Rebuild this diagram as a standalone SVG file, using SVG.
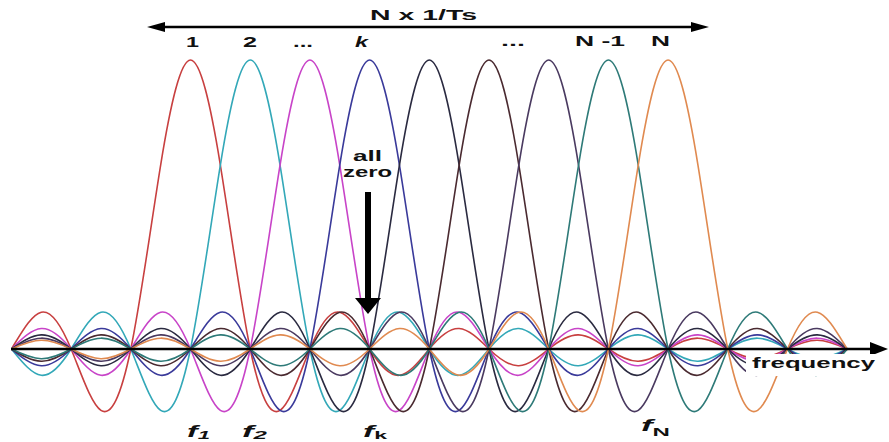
<svg xmlns="http://www.w3.org/2000/svg" xmlns:xlink="http://www.w3.org/1999/xlink" width="889" height="442" viewBox="0 0 889 442">
<style>
.sinc{fill:none;stroke-width:1.6;vector-effect:non-scaling-stroke;stroke-linejoin:round}
.lbl{font-family:"Liberation Sans",Arial,sans-serif;font-weight:bold;font-size:14px;fill:#111}
.fl{font-family:"Liberation Sans",Arial,sans-serif;font-weight:bold;font-style:italic;font-size:16px;fill:#111}
.ax{stroke:#000;fill:none}
</style>
<defs>
<path id="sinc" class="sinc" vector-effect="non-scaling-stroke" d="M -11 0 C -10.8333 0.01515 -10.6667 0.02984 -10.5 0.03032 C -10.3333 0.0308 -10.1667 0.01667 -10 0 C -9.8333 -0.01667 -9.6667 -0.03292 -9.5 -0.03351 C -9.3333 -0.0341 -9.1667 -0.01852 -9 0 C -8.8333 0.01852 -8.6667 0.03671 -8.5 0.03745 C -8.3333 0.03819 -8.1667 0.02083 -8 0 C -7.8333 -0.02083 -7.6667 -0.0415 -7.5 -0.04244 C -7.3333 -0.04338 -7.1667 -0.02381 -7 0 C -6.8333 0.02381 -6.6667 0.04771 -6.5 0.04897 C -6.3333 0.05023 -6.1667 0.02778 -6 0 C -5.8333 -0.02778 -5.6667 -0.05612 -5.5 -0.05787 C -5.3333 -0.05962 -5.1667 -0.03333 -5 0 C -4.8333 0.03333 -4.6667 0.06812 -4.5 0.07074 C -4.3333 0.07336 -4.1667 0.04167 -4 0 C -3.8333 -0.04167 -3.6667 -0.08662 -3.5 -0.09095 C -3.3333 -0.09528 -3.1667 -0.05556 -3 0 C -2.8333 0.05556 -2.6667 0.11883 -2.5 0.12732 C -2.3333 0.13581 -2.1667 0.08333 -2 0 C -1.8333 -0.08333 -1.6667 -0.18863 -1.5 -0.21221 C -1.3333 -0.23579 -1.1667 -0.16667 -1 0 C -0.8333 0.16667 -0.6667 0.42441 -0.5 0.63662 C -0.3333 0.84883 -0.1667 1 0 1 C 0.1667 1 0.3333 0.84883 0.5 0.63662 C 0.6667 0.42441 0.8333 0.16667 1 0 C 1.1667 -0.16667 1.3333 -0.23579 1.5 -0.21221 C 1.6667 -0.18863 1.8333 -0.08333 2 0 C 2.1667 0.08333 2.3333 0.13581 2.5 0.12732 C 2.6667 0.11883 2.8333 0.05556 3 0 C 3.1667 -0.05556 3.3333 -0.09528 3.5 -0.09095 C 3.6667 -0.08662 3.8333 -0.04167 4 0 C 4.1667 0.04167 4.3333 0.07336 4.5 0.07074 C 4.6667 0.06812 4.8333 0.03333 5 0 C 5.1667 -0.03333 5.3333 -0.05962 5.5 -0.05787 C 5.6667 -0.05612 5.8333 -0.02778 6 0 C 6.1667 0.02778 6.3333 0.05023 6.5 0.04897 C 6.6667 0.04771 6.8333 0.02381 7 0 C 7.1667 -0.02381 7.3333 -0.04338 7.5 -0.04244 C 7.6667 -0.0415 7.8333 -0.02083 8 0 C 8.1667 0.02083 8.3333 0.03819 8.5 0.03745 C 8.6667 0.03671 8.8333 0.01852 9 0 C 9.1667 -0.01852 9.3333 -0.0341 9.5 -0.03351 C 9.6667 -0.03292 9.8333 -0.01667 10 0 C 10.1667 0.01667 10.3333 0.0308 10.5 0.03032 C 10.6667 0.02984 10.8333 0.01515 11 0"/>
<clipPath id="band" clipPathUnits="userSpaceOnUse"><rect x="11.4" y="0" width="835.8" height="442"/></clipPath>
</defs>
<rect width="889" height="442" fill="#fff"/>

<g id="subcarriers" clip-path="url(#band)">
<g id="sc1"><use xlink:href="#sinc" stroke="#c84040" transform="translate(190.5,349) scale(59.7,-289)"/></g>
<g id="sc2"><use xlink:href="#sinc" stroke="#33a8b8" transform="translate(250.2,349) scale(59.7,-289)"/></g>
<g id="sc3"><use xlink:href="#sinc" stroke="#c844c8" transform="translate(309.9,349) scale(59.7,-289)"/></g>
<g id="sc4"><use xlink:href="#sinc" stroke="#3a3a9a" transform="translate(369.6,349) scale(59.7,-289)"/></g>
<g id="sc5"><use xlink:href="#sinc" stroke="#2a2a40" transform="translate(429.3,349) scale(59.7,-289)"/></g>
<g id="sc6"><use xlink:href="#sinc" stroke="#4a2a30" transform="translate(489,349) scale(59.7,-289)"/></g>
<g id="sc7"><use xlink:href="#sinc" stroke="#4a3a60" transform="translate(548.7,349) scale(59.7,-289)"/></g>
<g id="sc8"><use xlink:href="#sinc" stroke="#2e7a78" transform="translate(608.4,349) scale(59.7,-289)"/></g>
<g id="sc9"><use xlink:href="#sinc" stroke="#e08a50" transform="translate(668.1,349) scale(59.7,-289)"/></g>
</g>

<g id="connectors">
<line class="ax" x1="11" y1="349" x2="872" y2="349" stroke-width="2.5"/>
<polygon points="870,342 888,349 870,356" fill="#000"/>
<line class="ax" x1="162" y1="27" x2="694" y2="27" stroke-width="2.5"/>
<polygon points="147,27 165,22 165,32" fill="#000"/>
<polygon points="709,27 691,22 691,32" fill="#000"/>
<rect x="365" y="192" width="6" height="107" fill="#000"/>
<polygon points="355,298 381,298 368,314" fill="#000"/>
</g>

<g id="labels">
<text class="lbl" x="370" y="20" textLength="107" lengthAdjust="spacingAndGlyphs">N x 1/Ts</text>
<text class="lbl" x="186" y="47" textLength="13" lengthAdjust="spacingAndGlyphs">1</text>
<text class="lbl" x="243" y="47" textLength="14" lengthAdjust="spacingAndGlyphs">2</text>
<text class="lbl" x="293" y="47" textLength="20" lengthAdjust="spacingAndGlyphs">...</text>
<text class="lbl" x="355" y="47" textLength="13" lengthAdjust="spacingAndGlyphs" font-style="italic">k</text>
<text class="lbl" x="501" y="46" textLength="24" lengthAdjust="spacingAndGlyphs">...</text>
<text class="lbl" x="575" y="46" textLength="50" lengthAdjust="spacingAndGlyphs">N -1</text>
<text class="lbl" x="651" y="46" textLength="19" lengthAdjust="spacingAndGlyphs">N</text>
</g>

<g id="allzero">
<text class="lbl" x="353" y="161" textLength="29" lengthAdjust="spacingAndGlyphs">all</text>
<text class="lbl" x="343" y="177" textLength="49" lengthAdjust="spacingAndGlyphs">zero</text>
</g>

<g id="freqlabel">
<rect x="746" y="354" width="134" height="22" fill="#fff"/>
<text class="lbl" x="752" y="368" textLength="123" lengthAdjust="spacingAndGlyphs" fill="#333">frequency</text>
</g>

<g id="flabels">
<text class="fl" x="187" y="437" textLength="23" lengthAdjust="spacingAndGlyphs">f<tspan font-size="11" dy="2">1</tspan></text>
<text class="fl" x="242" y="437" textLength="25" lengthAdjust="spacingAndGlyphs">f<tspan font-size="11" dy="2">2</tspan></text>
<text class="fl" x="363" y="437" textLength="24" lengthAdjust="spacingAndGlyphs">f<tspan font-size="11" dy="2" font-style="normal">k</tspan></text>
<text class="fl" x="641" y="431" textLength="29" lengthAdjust="spacingAndGlyphs">f<tspan font-size="11" dy="5" font-style="normal">N</tspan></text>
</g>
</svg>
